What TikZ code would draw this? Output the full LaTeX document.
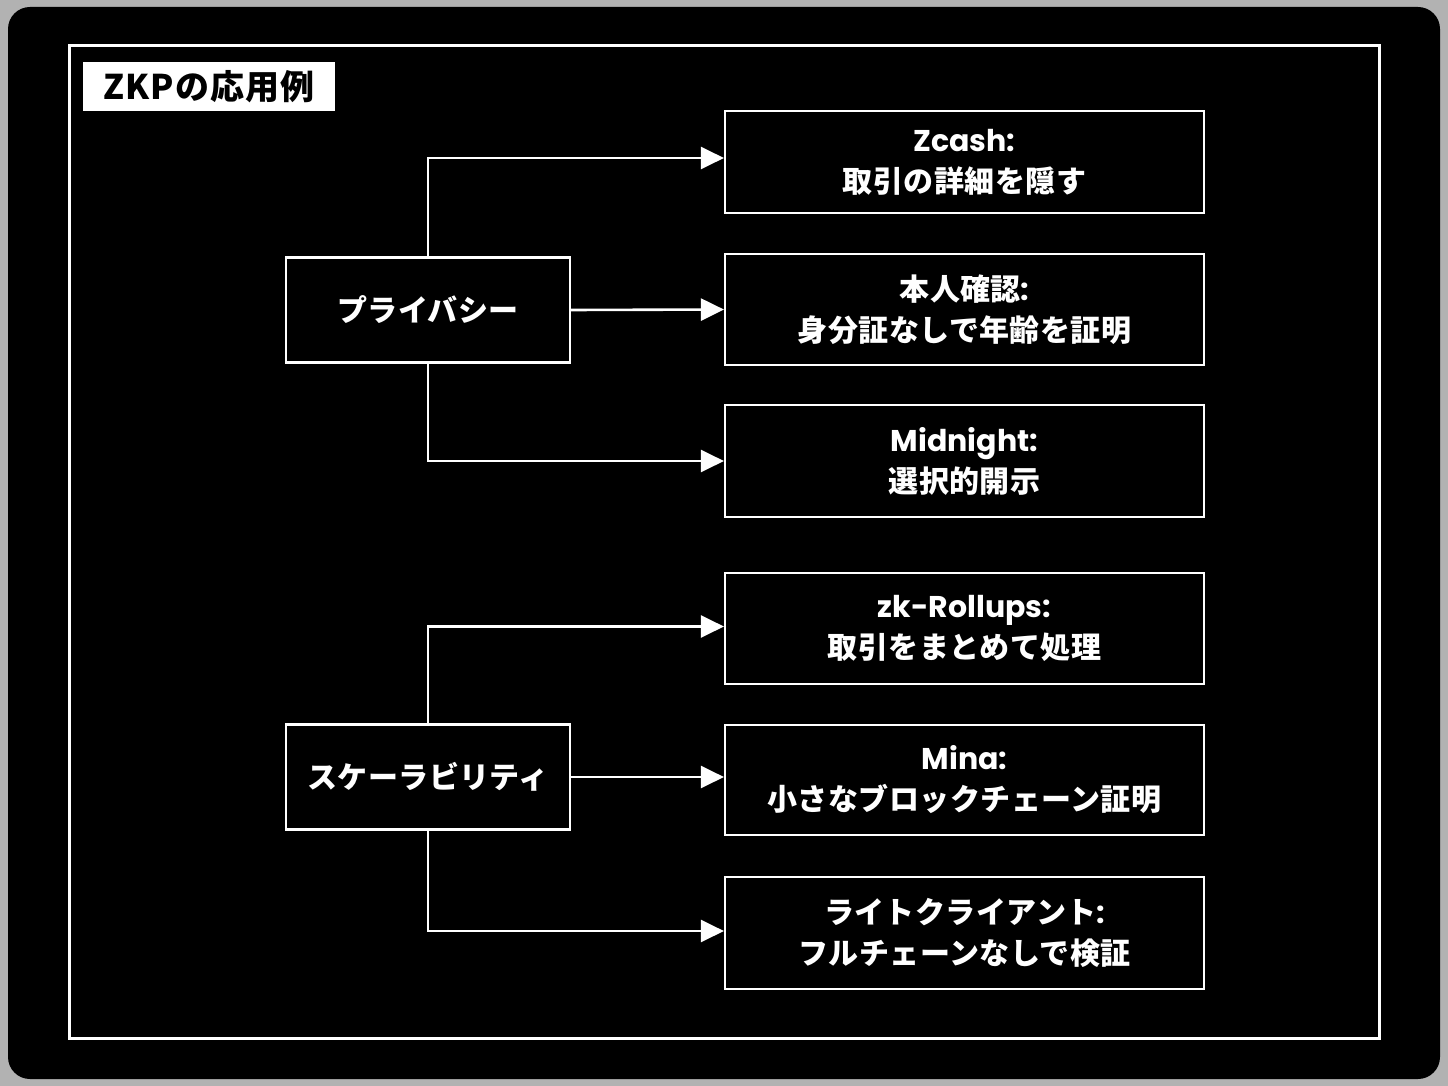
\documentclass[tikz,border=0pt]{standalone}
\usepackage{fontspec}
\setmainfont{Noto Sans CJK JP}
\newfontfamily\latinfont{Poppins}
\usetikzlibrary{arrows.meta}

\begin{document}
\begin{tikzpicture}[x=1pt,y=-1pt,>={Triangle[length=23pt,width=22pt]},
  box/.style={draw=white,line width=2.2pt,fill=black,text=white,align=center,font=\fontsize{30}{41}\selectfont\bfseries\addfontfeature{LetterSpace=1.5},inner sep=0pt},
  cat/.style={box,minimum width=284pt,minimum height=105pt},
  item/.style={box,minimum width=479pt,minimum height=106pt},
  link/.style={draw=white,line width=2.6pt,->}]
\useasboundingbox (0,0) rectangle (1448,1086);
\fill[black!30] (0,0) rectangle (1448,1086);
\fill[black,rounded corners=22pt] (8,7) rectangle (1440,1079);
\draw[white,line width=3pt] (69,46) rectangle (1379,1038);
\node[fill=white,text=black,minimum width=252pt,minimum height=49pt,inner sep=0pt,font=\fontsize{34}{38}\selectfont\bfseries\addfontfeature{LetterSpace=3}] (title) at (209,86.5) {ZKPの応用例};
% categories
\node[cat] (priv) at (428,310) {プライバシー};
\node[cat] (scal) at (428,777) {スケーラビリティ};
% applications
\node[item,minimum height=102pt] (zcash) at (964.5,162) {{\latinfont Zcash:}\\取引の詳細を隠す};
\node[item,minimum height=111pt] (ident) at (964.5,309.5) {本人確認{\latinfont :}\\身分証なしで年齢を証明};
\node[item,minimum height=112pt] (midn) at (964.5,461) {{\latinfont Midnight:}\\選択的開示};
\node[item,minimum height=111pt] (rollup) at (964.5,628.5) {{\latinfont zk-Rollups:}\\取引をまとめて処理};
\node[item,minimum height=110pt] (mina) at (964.5,780) {{\latinfont Mina:}\\小さなブロックチェーン証明};
\node[item,minimum height=112pt] (light) at (964.5,933) {ライトクライアント{\latinfont :}\\フルチェーンなしで検証};
\draw[link] (priv.north) |- ([yshift=4pt]zcash.west);
\draw[link] (priv.east) -- (ident.west);
\draw[link] (priv.south) |- (midn.west);
\draw[link] (scal.north) |- ([yshift=2pt]rollup.west);
\draw[link] (scal.east) -- (scal.east -| mina.west);
\draw[link] (scal.south) |- ([yshift=2pt]light.west);
\end{tikzpicture}
\end{document}
